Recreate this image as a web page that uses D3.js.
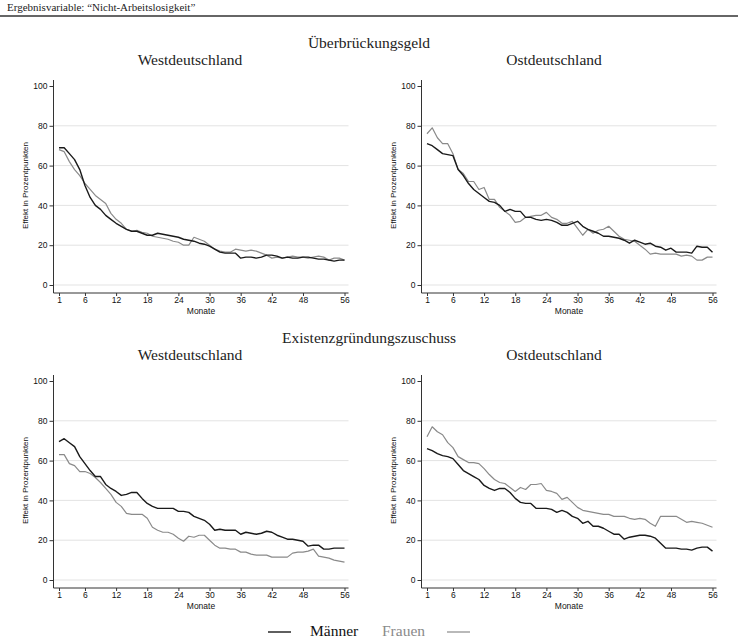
<!DOCTYPE html>
<html>
<head>
<meta charset="utf-8">
<script src="https://cdn.jsdelivr.net/npm/d3@7"></script>
<style>
  html, body { margin: 0; padding: 0; background: #fff; }
  svg { display: block; }
</style>
</head>
<body>
<svg id="chart" width="738" height="640"></svg>
<script>
// ---- Data ----
const months = d3.range(1, 57);
const xTicks = [1, 6, 12, 18, 24, 30, 36, 42, 48, 56];
const yTicks = [0, 20, 40, 60, 80, 100];
const gridValues = [0, 20, 40, 60, 80];

const headerText = "Ergebnisvariable: \u201CNicht-Arbeitslosigkeit\u201D";
const rowTitles = ["\u00DCberbr\u00FCckungsgeld", "Existenzgr\u00FCndungszuschuss"];
const colTitles = ["Westdeutschland", "Ostdeutschland"];
const seriesNames = ["M\u00E4nner", "Frauen"];
const xAxisTitle = "Monate";
const yAxisTitle = "Effekt in Prozentpunkten";

// Überbrückungsgeld, West
const ubgWestMaenner = [69,69,66,63,58,50,44,40,38,35,33,31,29.5,28,27,27,26,25,25,26,25.5,25,24.5,24,23,22.5,22,21,20.5,19.5,18,16.5,16,16,16,13.5,14,14,13.5,14,15,15,14.5,13.5,14,13.5,13.5,14,14,13.5,13,13,12.5,12,12.5,12.5];
const ubgWestFrauen = [68,67,62,58,55,51,48,45,43,41,36,33,31,28,27,27.5,26.5,26,24.5,24,23.5,23,22,21.5,20,20,24,23,22,20,18,17,16.5,16.5,18,17.5,17,17.5,17,16,15,13.5,14,13.5,14,14.5,14,14,13.5,14,14.5,14,12.5,13.5,13.5,12.5];
// Überbrückungsgeld, Ost
const ubgOstMaenner = [71,70,68,66,65.5,65,58,55,51,48,46,44,42,41.5,40,37,38,37,37,34,34,33,32.5,33,32.5,31.5,30,30,31,32,29.5,28,27,26,24.5,24.5,24,23.5,22.5,21,22.5,21.5,20.5,21,19.5,19,17.5,18.5,16.5,16.5,16.5,16,19.5,19,19,16.5];
const ubgOstFrauen = [76,79,74,71,71,66,58,56,52,52,48,49,43,43,39,37,35,31.5,32,34,34.5,35,35,36.5,34,33,31,31,32,28.5,25,28,26,27.5,28,29.5,27,24.5,23,22.5,22,20,18,15.5,16,15.5,15.5,15.5,15.5,14.5,15,14.5,12.5,12.5,14,14];
// Existenzgründungszuschuss, West
const egzWestMaenner = [69.5,71,69,67,62,58.5,55,52,52,48,46,44.5,42.5,43,44,44,41,38.5,37,36,36,36,36,34.5,34.5,34,32,31,30,28,25,25.5,25,25,25,23,24,23.5,23,23.5,24.5,24,22.5,21.5,20.5,20.5,20,19.5,17,17.5,17.5,15.5,15.5,16,16,16];
const egzWestFrauen = [63,63,58.5,57.5,54.5,54.5,53.5,51.5,49,46,43,39,37,33.5,33,33,33,31,26.5,25,24,24,23,21,19.5,22,21.5,22.5,22.5,20,17.5,16,16,15.5,15.5,14,14,13,12.5,12.5,12.5,11.5,11.5,11.5,11.5,13.5,14,14,14.5,15.5,12,11.5,11,10,9.5,9];
// Existenzgründungszuschuss, Ost
const egzOstMaenner = [66,65,63.5,62.5,62,61,58,55,53.5,52,50.5,47.5,46,45,46,46,44,41,39,38.5,38.5,36,36,36,35.5,34,35,34,32,31,28.5,29.5,27,27,26,24.5,23,23,20.5,21.5,22,22.5,22.5,22,21,18.5,16,16,16,15.5,15.5,15,16,16.5,16.5,14.5];
const egzOstFrauen = [72,77,74.5,73,69,66.5,62,60.5,59,59,58.5,56,53,50.5,49,48.5,46.5,44.5,46.5,45.5,48,48,48.5,45,44.5,43.5,40.5,41.5,39,36.5,35,34.5,34,33.5,33,33,32,32,32,31,30.5,31,30.5,28.5,27,32,32,32,32,30.5,29,29.5,29,28.5,27.5,26.5];

const panelSeries = [
  [[ubgWestMaenner, ubgWestFrauen], [ubgOstMaenner, ubgOstFrauen]],
  [[egzWestMaenner, egzWestFrauen], [egzOstMaenner, egzOstFrauen]]
];

// ---- Layout ----
const svg = d3.select("#chart");
const sansFont = "'Liberation Sans', Arial, sans-serif";
const serifFont = "'Liberation Serif', 'Times New Roman', serif";
const colors = ["#1a1a1a", "#8a8a8a"];

// header
svg.append("text").attr("x", 7).attr("y", 11)
  .attr("font-family", serifFont).attr("font-size", 11).attr("fill", "#222")
  .text(headerText);
svg.append("line").attr("x1", 0).attr("x2", 738).attr("y1", 16).attr("y2", 16)
  .attr("stroke", "#333").attr("stroke-width", 1.3);

const colAxisX = [53.5, 421.5];
const rowTop = [0, 295];

rowTitles.forEach((rt, r) => {
  svg.append("text").attr("x", 369).attr("y", 48 + rowTop[r])
    .attr("text-anchor", "middle").attr("font-family", serifFont)
    .attr("font-size", 15.5).attr("fill", "#222").text(rt);
  colTitles.forEach((ct, c) => {
    const ox = colAxisX[c];
    const oy = rowTop[r];
    svg.append("text").attr("x", c === 0 ? 190 : 554).attr("y", 65 + oy)
      .attr("text-anchor", "middle").attr("font-family", serifFont)
      .attr("font-size", 15.5).attr("fill", "#222").text(ct);

    const x = d3.scaleLinear().domain([1, 56]).range([ox + 5.5, ox + 291]);
    const y = d3.scaleLinear().domain([0, 100]).range([285 + oy, 86 + oy]);
    const right = ox + 295;
    const bottom = 293 + oy;
    const top = 80 + oy;

    const g = svg.append("g");
    // gridlines
    g.selectAll("line.grid").data(gridValues).join("line")
      .attr("x1", ox).attr("x2", right)
      .attr("y1", d => y(d)).attr("y2", d => y(d))
      .attr("stroke", "#e3e3e3").attr("stroke-width", 1);

    // y axis
    const yAxis = d3.axisLeft(y).tickValues(yTicks).tickSize(4).tickPadding(2);
    const ya = g.append("g").attr("transform", `translate(${ox},0)`).call(yAxis);
    ya.select(".domain").attr("d", `M0,${top}V${bottom}`).attr("stroke", "#333");
    ya.selectAll(".tick line").attr("stroke", "#333");
    ya.selectAll("text").attr("font-family", sansFont).attr("font-size", 8.5).attr("fill", "#111");

    // x axis
    const xAxis = d3.axisBottom(x).tickValues(xTicks).tickSize(3).tickPadding(0.5);
    const xa = g.append("g").attr("transform", `translate(0,${bottom})`).call(xAxis);
    xa.select(".domain").attr("d", `M${ox},0H${right}`).attr("stroke", "#333");
    xa.selectAll(".tick line").attr("stroke", "#333");
    xa.selectAll("text").attr("font-family", sansFont).attr("font-size", 8.5).attr("fill", "#111");

    // axis titles
    g.append("text").attr("x", (ox + right) / 2).attr("y", bottom + 21)
      .attr("text-anchor", "middle").attr("font-family", sansFont)
      .attr("font-size", 8.5).attr("fill", "#111").text(xAxisTitle);
    g.append("text")
      .attr("transform", `translate(${ox - 26},${(y(0) + y(100)) / 2}) rotate(-90)`)
      .attr("text-anchor", "middle").attr("font-family", sansFont)
      .attr("font-size", 8).attr("fill", "#111").text(yAxisTitle);

    // lines (Frauen first so Männer on top)
    const line = d3.line().x((d, i) => x(months[i])).y(d => y(d));
    [1, 0].forEach(s => {
      g.append("path").datum(panelSeries[r][c][s])
        .attr("d", line).attr("fill", "none")
        .attr("stroke", colors[s]).attr("stroke-width", s === 0 ? 1.4 : 1.2)
        .attr("stroke-linejoin", "round");
    });
  });
});

// legend
const lg = svg.append("g");
lg.append("line").attr("x1", 268).attr("x2", 291).attr("y1", 632).attr("y2", 632)
  .attr("stroke", colors[0]).attr("stroke-width", 1.4);
lg.append("text").attr("x", 310).attr("y", 636).attr("font-family", serifFont)
  .attr("font-size", 15.5).attr("fill", "#111").text(seriesNames[0]);
lg.append("text").attr("x", 382).attr("y", 636).attr("font-family", serifFont)
  .attr("font-size", 15.5).attr("fill", "#8a8a8a").text(seriesNames[1]);
lg.append("line").attr("x1", 447).attr("x2", 470).attr("y1", 632).attr("y2", 632)
  .attr("stroke", colors[1]).attr("stroke-width", 1.2);
</script>
</body>
</html>
